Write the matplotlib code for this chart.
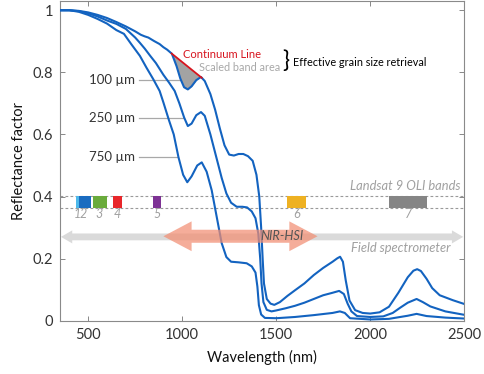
import matplotlib
matplotlib.use("Agg")
import matplotlib.pyplot as plt
import numpy as np
from matplotlib.patches import Polygon, Rectangle

plt.rcParams['font.family'] = ['Lato', 'DejaVu Sans']

# ---------------- data ----------------
wl_100 = [350, 400, 450, 500, 550, 600, 650, 700, 750, 780, 800, 820, 850, 880, 900, 920, 945,
          970, 990, 1010, 1030, 1050, 1075, 1100, 1120, 1150, 1175, 1200, 1225, 1250, 1275, 1300,
          1325, 1350, 1375, 1395, 1410, 1420, 1428, 1435, 1450, 1470, 1490, 1520, 1560, 1600,
          1650, 1700, 1750, 1800, 1825, 1840, 1855, 1870, 1890, 1920, 1960, 2000, 2050, 2100,
          2150, 2200, 2230, 2250, 2270, 2300, 2330, 2370, 2440, 2500]
r_100 = [1.0, 1.0, 0.998, 0.993, 0.985, 0.975, 0.962, 0.948, 0.932, 0.921, 0.916, 0.912, 0.901,
         0.891, 0.881, 0.873, 0.860, 0.82, 0.78, 0.752, 0.745, 0.755, 0.775, 0.785, 0.772, 0.73,
         0.68, 0.62, 0.565, 0.535, 0.532, 0.537, 0.537, 0.530, 0.515, 0.47, 0.40, 0.30, 0.20,
         0.12, 0.07, 0.055, 0.051, 0.06, 0.08, 0.098, 0.12, 0.147, 0.17, 0.19, 0.201, 0.206,
         0.19, 0.13, 0.065, 0.034, 0.025, 0.023, 0.027, 0.045, 0.09, 0.14, 0.161, 0.166, 0.16,
         0.135, 0.105, 0.082, 0.066, 0.054]

wl_250 = [350, 400, 450, 500, 550, 600, 650, 700, 750, 775, 800, 830, 860, 900, 930, 960, 985,
          1010, 1030, 1050, 1075, 1100, 1120, 1150, 1180, 1210, 1235, 1260, 1290, 1320, 1345,
          1370, 1390, 1405, 1415, 1422, 1432, 1450, 1475, 1500, 1550, 1600, 1650, 1700, 1750,
          1800, 1835, 1860, 1880, 1900, 1930, 2000, 2070, 2120, 2160, 2200, 2247, 2280, 2320,
          2400, 2500]
r_250 = [1.0, 1.0, 0.997, 0.99, 0.98, 0.967, 0.956, 0.94, 0.912, 0.895, 0.877, 0.853, 0.83,
         0.792, 0.767, 0.74, 0.70, 0.655, 0.627, 0.635, 0.662, 0.672, 0.66, 0.60, 0.53, 0.46,
         0.41, 0.38, 0.367, 0.367, 0.365, 0.352, 0.33, 0.28, 0.20, 0.12, 0.06, 0.035, 0.03,
         0.033, 0.04, 0.048, 0.058, 0.07, 0.082, 0.09, 0.096, 0.086, 0.055, 0.03, 0.015, 0.012,
         0.014, 0.025, 0.042, 0.058, 0.07, 0.06, 0.046, 0.03, 0.019]

wl_750 = [350, 400, 450, 500, 550, 600, 650, 690, 730, 775, 810, 846, 880, 900, 930, 955, 980,
          1005, 1027, 1050, 1080, 1104, 1130, 1157, 1185, 1210, 1235, 1260, 1300, 1343, 1370,
          1390, 1400, 1408, 1420, 1440, 1500, 1600, 1700, 1800, 1839, 1865, 1893, 2000, 2100,
          2200, 2247, 2300, 2400, 2500]
r_750 = [1.0, 1.0, 0.995, 0.985, 0.972, 0.957, 0.936, 0.924, 0.89, 0.853, 0.815, 0.778, 0.74,
         0.703, 0.645, 0.60, 0.527, 0.47, 0.446, 0.465, 0.50, 0.51, 0.48, 0.42, 0.33, 0.25,
         0.205, 0.19, 0.188, 0.185, 0.175, 0.155, 0.11, 0.05, 0.02, 0.009, 0.008, 0.012, 0.018,
         0.025, 0.03, 0.025, 0.008, 0.004, 0.006, 0.016, 0.022, 0.015, 0.01, 0.007]

grain_labels = ['100 µm', '250 µm', '750 µm']
grain_label_y = [0.776, 0.652, 0.527]
grain_line_end = [1000, 1005, 975]

continuum_wl = [944, 1104]

band_names = ['1', '2', '3', '4', '5', '6', '7']
band_start = [433, 450, 525, 630, 845, 1560, 2100]
band_end = [453, 515, 600, 680, 885, 1660, 2300]
band_label_x = [444, 476, 560, 654, 864, 1608, 2202]
band_colors = ['#4db8ea', '#1a6cc0', '#6aab3c', '#e8262a', '#7d3294', '#eeb122', '#858585']

nir_range = [900, 1720]
field_range = [355, 2495]

blue = '#1363c0'

fig = plt.figure(figsize=(4.84, 3.74), dpi=100)
ax = fig.add_axes([0.124, 0.1425, 0.835, 0.855])
ax.set_xlim(350, 2500)
ax.set_ylim(0, 1.03)

# Landsat band box
ax.axhline(0.402, color='#9a9a9a', lw=0.8, ls=(0, (2.5, 2)), zorder=1)
ax.axhline(0.363, color='#9a9a9a', lw=0.8, ls=(0, (2.5, 2)), zorder=1)
for s, e, c in zip(band_start, band_end, band_colors):
    ax.add_patch(Rectangle((s, 0.364), e - s, 0.037, facecolor=c, edgecolor='none', zorder=2))
for n, x in zip(band_names, band_label_x):
    ax.text(x, 0.343, n, ha='center', va='center', fontsize=9, style='italic',
            color='#a0a0a0', zorder=3)
ax.text(2478, 0.433, 'Landsat 9 OLI bands', ha='right', va='center', fontsize=9.3,
        style='italic', color='#a0a0a0')


def double_arrow(x0, x1, yc, shaft, head, head_len, color, alpha, z):
    pts = [(x0, yc), (x0 + head_len, yc + head), (x0 + head_len, yc + shaft),
           (x1 - head_len, yc + shaft), (x1 - head_len, yc + head), (x1, yc),
           (x1 - head_len, yc - head), (x1 - head_len, yc - shaft),
           (x0 + head_len, yc - shaft), (x0 + head_len, yc - head)]
    ax.add_patch(Polygon(pts, closed=True, facecolor=color, edgecolor='none',
                         alpha=alpha, zorder=z))


# field spectrometer arrow
double_arrow(field_range[0], field_range[1], 0.27, 0.011, 0.021, 60, '#dadada', 1.0, 1)
ax.text(2425, 0.235, 'Field spectrometer', ha='right', va='center', fontsize=9.3,
        style='italic', color='#a0a0a0')

# curves
ax.plot(wl_100, r_100, color=blue, lw=1.5, zorder=4)
ax.plot(wl_250, r_250, color=blue, lw=1.5, zorder=4)
ax.plot(wl_750, r_750, color=blue, lw=1.5, zorder=4)

# continuum + band area
w100 = np.array(wl_100)
r100 = np.array(r_100)
m = (w100 >= continuum_wl[0]) & (w100 <= continuum_wl[1])
cy = np.interp(continuum_wl, w100, r100)
cont = np.interp(w100[m], continuum_wl, cy)
ax.fill_between(w100[m], r100[m], cont, color='#a3a3a3', lw=0, zorder=3)
ax.plot(continuum_wl, cy, color='#d7141e', lw=1.3, zorder=5)

# NIR-HSI arrow
double_arrow(nir_range[0], nir_range[1], 0.272, 0.021, 0.048, 150, '#f28e73', 0.72, 6)
ax.text(1533, 0.272, 'NIR-HSI', ha='center', va='center', fontsize=9.2, style='italic',
        color='#555555', zorder=7)

# grain labels
for lab, y, xe in zip(grain_labels, grain_label_y, grain_line_end):
    ax.text(748, y, lab, ha='right', va='center', fontsize=9.5, color='#333333')
    ax.plot([770, xe], [y, y], color='#a8a8a8', lw=0.9, zorder=2)

ax.text(1003, 0.857, 'Continuum Line', ha='left', va='center', fontsize=8, color='#d7141e')
ax.text(1088, 0.814, 'Scaled band area', ha='left', va='center', fontsize=7.8, color='#a8a8a8')
ax.text(1530, 0.836, '}', ha='left', va='center', fontsize=17, color='black')
ax.text(1592, 0.832, 'Effective grain size retrieval', ha='left', va='center', fontsize=7.8,
        color='black')

# axes styling
ax.set_xticks([500, 1000, 1500, 2000, 2500])
ax.set_yticks([0, 0.2, 0.4, 0.6, 0.8, 1.0])
ax.set_yticklabels(['0', '0.2', '0.4', '0.6', '0.8', '1'])
ax.tick_params(direction='in', top=True, right=True, length=3.5, width=0.7,
               labelsize=10.5, colors='#888888', labelcolor='#333333', pad=5)
for sp in ax.spines.values():
    sp.set_color('#8a8a8a')
    sp.set_linewidth(0.8)
ax.set_xlabel('Wavelength (nm)', fontsize=10.5, color='#111111', labelpad=6)
ax.set_ylabel('Reflectance factor', fontsize=10.5, color='#111111', labelpad=5)

fig.savefig('out.png', dpi=100)
